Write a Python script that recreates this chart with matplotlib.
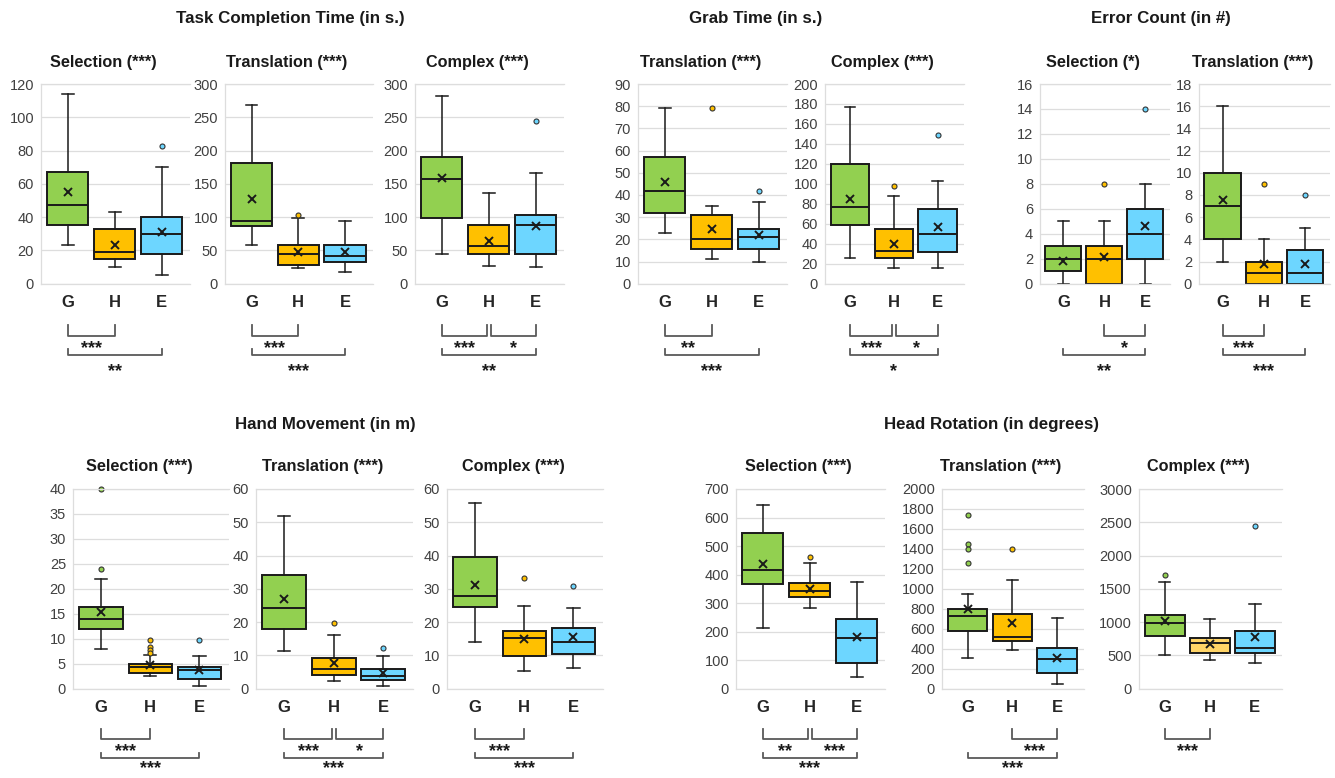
import matplotlib
matplotlib.use('Agg')
import matplotlib.pyplot as plt
import numpy as np
from matplotlib import transforms

plt.rcParams['font.family'] = ['Liberation Sans', 'DejaVu Sans']

W, H = 1335, 778
fig = plt.figure(figsize=(W / 100, H / 100), dpi=100)
fig.patch.set_facecolor('white')

groups = ['G', 'H', 'E']
box_colors = ['#92D050', '#FFC000', '#6DD6FF']
box_colors_light = ['#92D050', '#FFD467', '#6DD6FF']

# per group G, H, E: (low whisker, Q1, median, Q3, high whisker, mean)
tct_sel = [(23, 35, 47, 67, 114, 55), (10, 15, 19, 33, 43, 23), (5, 18, 30, 40, 70, 31)]
tct_sel_out = [[], [], [83]]
tct_tra = [(58, 87, 94, 181, 268, 127), (24, 28, 44, 58, 99, 48), (18, 32, 42, 58, 94, 47)]
tct_tra_out = [[], [103], []]
tct_cpx = [(44, 99, 157, 190, 282, 159), (27, 44, 56, 88, 137, 64), (25, 44, 88, 103, 166, 87)]
tct_cpx_out = [[], [], [245]]

grab_tra = [(22.7, 32, 42, 57.2, 79.4, 45.8), (11, 15.5, 20.3, 31, 35, 24.7), (10, 15.5, 21, 24.8, 36.7, 22)]
grab_tra_out = [[], [79.2], [41.6]]
grab_cpx = [(26, 58.5, 76.6, 120, 177, 85), (16, 25.8, 32.4, 54.5, 88, 39.8), (15.4, 32, 49.5, 74.6, 102.7, 57)]
grab_cpx_out = [[], [98], [148.5]]

err_sel = [(0, 1, 2, 3, 5, 1.85), (0, 0, 2, 3, 5, 2.15), (0, 2, 4, 6, 8, 4.6)]
err_sel_out = [[], [8], [14]]
err_tra = [(2, 4, 7, 10, 16, 7.5), (0, 0, 1, 2, 4, 1.75), (0, 0, 1, 3, 5, 1.8)]
err_tra_out = [[], [9], [8]]

hm_sel = [(7.9, 11.9, 13.9, 16.3, 22, 15.3), (2.5, 3.2, 4.3, 4.9, 6.7, 4.7), (0.5, 1.9, 3.7, 4.4, 6.6, 3.7)]
hm_sel_out = [[40, 23.9], [9.8, 8.4, 7.8, 7.2], [9.7]]
hm_tra = [(11.2, 18, 24.1, 34.2, 52, 26.9), (2.4, 4.2, 5.8, 9.3, 16, 7.6), (0.8, 2.6, 3.7, 6, 9.9, 4.6)]
hm_tra_out = [[], [19.8], [12.1]]
hm_cpx = [(13.9, 24.6, 28, 39.6, 55.8, 31.2), (5.2, 9.8, 15.1, 17.4, 24.8, 15), (6.2, 10.4, 14, 18.3, 24.1, 15.4)]
hm_cpx_out = [[], [33.2], [31]]

hr_sel = [(213, 367, 416, 545, 643, 436), (283, 320, 342, 369, 439, 348), (40, 91, 176, 246, 375, 180)]
hr_sel_out = [[], [463], []]
hr_tra = [(304, 575, 726, 799, 950, 803), (388, 475, 518, 749, 1087, 662), (47, 154, 298, 405, 712, 311)]
hr_tra_out = [[1740, 1450, 1400, 1260], [1401], []]
hr_cpx = [(512, 788, 988, 1109, 1606, 1013), (432, 532, 682, 758, 1049, 672), (382, 532, 617, 868, 1279, 773)]
hr_cpx_out = [[1701], [], [2438]]

# significance brackets (group i, group j, label)
tct_sel_sig = [(0, 1, '***'), (0, 2, '**')]
tct_tra_sig = [(0, 1, '***'), (0, 2, '***')]
tct_cpx_sig = [(0, 1, '***'), (1, 2, '*'), (0, 2, '**')]
grab_tra_sig = [(0, 1, '**'), (0, 2, '***')]
grab_cpx_sig = [(0, 1, '***'), (1, 2, '*'), (0, 2, '*')]
err_sel_sig = [(1, 2, '*'), (0, 2, '**')]
err_tra_sig = [(0, 1, '***'), (0, 2, '***')]
hm_sel_sig = [(0, 1, '***'), (0, 2, '***')]
hm_tra_sig = [(0, 1, '***'), (1, 2, '*'), (0, 2, '***')]
hm_cpx_sig = [(0, 1, '***'), (0, 2, '***')]
hr_sel_sig = [(0, 1, '**'), (1, 2, '***'), (0, 2, '***')]
hr_tra_sig = [(1, 2, '***'), (0, 2, '***')]
hr_cpx_sig = [(0, 1, '***')]

# layout in pixels
TOP_ROW = dict(top=84, bottom=283.7, sub_y=63,
               brk=[(325, 336, 349), (349, 355, 372)])
BOT_ROW = dict(top=489, bottom=688.7, sub_y=467,
               brk=[(729, 739, 752), (753, 758, 768.5)])


def draw_panel(left, right, row, title, stats, outs, sig, ymax, ystep, colors=box_colors):
    ax = fig.add_axes([left / W, 1 - row['bottom'] / H,
                       (right - left) / W, (row['bottom'] - row['top']) / H])
    bstats = []
    for (lo, q1, med, q3, hi, mean), fl, g in zip(stats, outs, groups):
        bstats.append(dict(whislo=lo, q1=q1, med=med, q3=q3, whishi=hi,
                           mean=mean, fliers=fl, label=g))
    dark = '#1a1a1a'
    res = ax.bxp(bstats, positions=[1, 2, 3], widths=0.88, patch_artist=True,
                 showmeans=True, capwidths=0.25,
                 boxprops=dict(edgecolor=dark, linewidth=1.4),
                 medianprops=dict(color=dark, linewidth=1.4),
                 whiskerprops=dict(color=dark, linewidth=1.1),
                 capprops=dict(color=dark, linewidth=1.1),
                 meanprops=dict(marker='x', markeredgecolor=dark, markersize=6,
                                markeredgewidth=1.4),
                 flierprops=dict(marker='o', markersize=3.6, markeredgecolor='#333333',
                                 markeredgewidth=0.8))
    for patch, c, fl in zip(res['boxes'], colors, res['fliers']):
        patch.set_facecolor(c)
        fl.set_markerfacecolor(c)
    for key in res:
        for art in res[key]:
            art.set_clip_on(False)

    ax.set_xlim(0.43, 3.6)
    ax.set_ylim(0, ymax)
    ax.set_yticks(np.arange(0, ymax + ystep / 2, ystep))
    ax.yaxis.grid(True, color='#DDDDDD', linewidth=0.9)
    ax.set_axisbelow(True)
    for s in ['top', 'left', 'bottom']:
        ax.spines[s].set_color('#DDDDDD')
        ax.spines[s].set_linewidth(0.9)
    ax.spines['right'].set_visible(False)
    ax.tick_params(axis='y', length=0, pad=5, labelsize=10.5, labelcolor='#404040')
    ax.tick_params(axis='x', length=0, pad=8, labelsize=12, labelcolor='#262626')
    for lbl in ax.get_xticklabels():
        lbl.set_fontweight('bold')

    fig.text(((left + right) / 2 - 12) / W, 1 - row['sub_y'] / H, title,
             ha='center', va='center', fontsize=11.7, fontweight='bold', color='#1a1a1a')

    tr = transforms.blended_transform_factory(ax.transData, fig.transFigure)
    adj_pairs = [(i, j) for i, j, _ in sig if j - i == 1]
    for i, j, lab in sig:
        level = 0 if j - i == 1 else 1
        y_top, y_bot, y_txt = row['brk'][level]
        x1, x2 = i + 1.0, j + 1.0
        if level == 0 and len(adj_pairs) == 2:
            if j == 1:
                x2 -= 0.04
            if i == 1:
                x1 += 0.04
        ax.plot([x1, x1, x2, x2],
                [1 - y_top / H, 1 - y_bot / H, 1 - y_bot / H, 1 - y_top / H],
                transform=tr, color='#595959', lw=1.3, clip_on=False)
        ax.text((x1 + x2) / 2, 1 - y_txt / H, lab, transform=tr, ha='center',
                va='center', fontsize=13, fontweight='bold', color='#1a1a1a')
    return ax


# top row
draw_panel(41, 190, TOP_ROW, 'Selection (***)', tct_sel, tct_sel_out, tct_sel_sig, 120, 20)
draw_panel(225, 373, TOP_ROW, 'Translation (***)', tct_tra, tct_tra_out, tct_tra_sig, 300, 50)
draw_panel(415, 564, TOP_ROW, 'Complex (***)', tct_cpx, tct_cpx_out, tct_cpx_sig, 300, 50)
draw_panel(638, 787, TOP_ROW, 'Translation (***)', grab_tra, grab_tra_out, grab_tra_sig, 90, 10)
draw_panel(825, 964, TOP_ROW, 'Complex (***)', grab_cpx, grab_cpx_out, grab_cpx_sig, 200, 20)
draw_panel(1040, 1170, TOP_ROW, 'Selection (*)', err_sel, err_sel_out, err_sel_sig, 16, 2)
draw_panel(1199, 1330, TOP_ROW, 'Translation (***)', err_tra, err_tra_out, err_tra_sig, 18, 2)

# bottom row
draw_panel(73, 229, BOT_ROW, 'Selection (***)', hm_sel, hm_sel_out, hm_sel_sig, 40, 5)
draw_panel(256, 413, BOT_ROW, 'Translation (***)', hm_tra, hm_tra_out, hm_tra_sig, 60, 10)
draw_panel(447, 603, BOT_ROW, 'Complex (***)', hm_cpx, hm_cpx_out, hm_cpx_sig, 60, 10)
draw_panel(736, 885, BOT_ROW, 'Selection (***)', hr_sel, hr_sel_out, hr_sel_sig, 700, 100)
draw_panel(942, 1084, BOT_ROW, 'Translation (***)', hr_tra, hr_tra_out, hr_tra_sig, 2000, 200)
draw_panel(1139, 1282, BOT_ROW, 'Complex (***)', hr_cpx, hr_cpx_out, hr_cpx_sig, 3000, 500,
           colors=box_colors_light)

# section titles
for txt, x, y in [('Task Completion Time (in s.)', 290, 19), ('Grab Time (in s.)', 756, 19),
                  ('Error Count (in #)', 1161, 19), ('Hand Movement (in m)', 325, 425),
                  ('Head Rotation (in degrees)', 991, 425)]:
    fig.text(x / W, 1 - y / H, txt, ha='center', va='center', fontsize=12.2,
             fontweight='bold', color='#1a1a1a')

fig.savefig('out.png', dpi=100, facecolor='white')
